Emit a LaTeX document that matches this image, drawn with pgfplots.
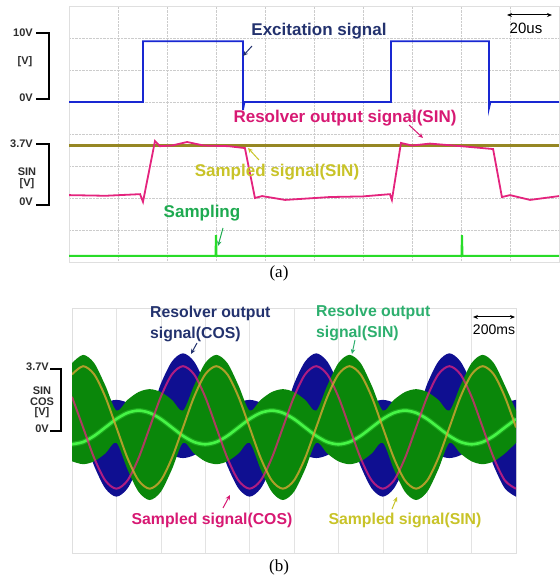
\documentclass[border=0pt]{standalone}
\usepackage{pgfplots}
\pgfplotsset{compat=1.18}
\usepackage{pgfplotstable}
\usepgfplotslibrary{fillbetween}
\usetikzlibrary{arrows.meta}
\usepackage{fontspec}
\setmainfont{Liberation Sans}
\newfontfamily\serif{Liberation Serif}

\definecolor{navytxt}{RGB}{35,50,110}
\definecolor{magtxt}{RGB}{215,25,115}
\definecolor{yeltxt}{RGB}{200,195,40}
\definecolor{grntxt}{RGB}{30,170,80}
\definecolor{grntxtb}{RGB}{45,175,110}
\definecolor{labgray}{RGB}{45,45,45}
\definecolor{exblue}{RGB}{25,40,210}
\definecolor{olive2}{RGB}{150,135,35}
\definecolor{magline}{RGB}{228,35,125}
\definecolor{sampgreen}{RGB}{40,220,40}
\definecolor{fillblue}{RGB}{15,15,145}
\definecolor{fillgreen}{RGB}{10,135,10}
\definecolor{lightgreen}{RGB}{70,245,70}
\definecolor{orangeline}{RGB}{215,165,50}

% panel (b): time in ms, level in screen divisions
% m = sampled COS, o = sampled SIN, ub/lb = COS band, ug/lgn = SIN band, lg = bright green trace
\pgfplotstableread{
t m o ub lb ug lgn lg
0 5.1 5.832 5.52 3.45 6.202 2.994 3.55
50 4.1 6.1 4.52 3.8 6.47 2.9 3.624
100 3.1 5.832 4.65 2.84 6.202 2.994 3.825
150 2.368 5.1 4.906 2.108 5.47 3.25 4.1
200 2.1 4.1 5.0 1.84 4.65 3.6 4.375
250 2.368 3.1 4.906 2.108 5.0 2.73 4.576
300 3.1 2.368 4.65 2.84 5.256 1.998 4.65
350 4.1 2.1 4.52 3.8 5.35 1.73 4.576
400 5.1 2.368 5.52 3.45 5.256 1.998 4.375
450 5.832 3.1 6.252 3.194 5.0 2.73 4.1
500 6.1 4.1 6.52 3.1 4.65 3.6 3.825
550 5.832 5.1 6.252 3.194 5.47 3.25 3.624
600 5.1 5.832 5.52 3.45 6.202 2.994 3.55
650 4.1 6.1 4.52 3.8 6.47 2.9 3.624
700 3.1 5.832 4.65 2.84 6.202 2.994 3.825
750 2.368 5.1 4.906 2.108 5.47 3.25 4.1
800 2.1 4.1 5.0 1.84 4.65 3.6 4.375
850 2.368 3.1 4.906 2.108 5.0 2.73 4.576
900 3.1 2.368 4.65 2.84 5.256 1.998 4.65
950 4.1 2.1 4.52 3.8 5.35 1.73 4.576
1000 5.1 2.368 5.52 3.45 5.256 1.998 4.375
1050 5.832 3.1 6.252 3.194 5.0 2.73 4.1
1100 6.1 4.1 6.52 3.1 4.65 3.6 3.825
1150 5.832 5.1 6.252 3.194 5.47 3.25 3.624
1200 5.1 5.832 5.52 3.45 6.202 2.994 3.55
1250 4.1 6.1 4.52 3.8 6.47 2.9 3.624
1300 3.1 5.832 4.65 2.84 6.202 2.994 3.825
1350 2.368 5.1 4.906 2.108 5.47 3.25 4.1
1400 2.1 4.1 5.0 1.84 4.65 3.6 4.375
1450 2.368 3.1 4.906 2.108 5.0 2.73 4.576
1500 3.1 2.368 4.65 2.84 5.256 1.998 4.65
1550 4.1 2.1 4.52 3.8 5.35 1.73 4.576
1600 5.1 2.368 5.52 3.45 5.256 1.998 4.375
1650 5.832 3.1 6.252 3.194 5.0 2.73 4.1
1700 6.1 4.1 6.52 3.1 4.65 3.6 3.825
1750 5.832 5.1 6.252 3.194 5.47 3.25 3.624
1800 5.1 5.832 5.52 3.45 6.202 2.994 3.55
1850 4.1 6.1 4.52 3.8 6.47 2.9 3.624
1900 3.1 5.832 4.65 2.84 6.202 2.994 3.825
1950 2.368 5.1 4.906 2.108 5.47 3.25 4.1
2000 2.1 4.1 5.0 1.84 4.65 3.6 4.375
}\bdata

\tikzset{
  ann/.style={font=\fontsize{17}{19}\selectfont\bfseries, inner sep=0pt},
  annb/.style={font=\fontsize{15.8}{18}\selectfont\bfseries, inner sep=0pt},
  lab/.style={font=\fontsize{11}{12}\selectfont\bfseries, text=labgray, inner sep=0pt},
  arr/.style={-{Stealth[length=5pt,width=4.5pt]}, line width=1pt},
}
\pgfplotsset{every tick label/.append style={inner sep=0pt, outer sep=0pt}}

\begin{document}
\begin{tikzpicture}
\path (0,0) rectangle (559pt,579pt);

% ---------------- panel (a) ----------------
\begin{axis}[
  at={(69pt,317pt)}, anchor=south west,
  scale only axis, width=490pt, height=256pt,
  xmin=0, xmax=200, ymin=0, ymax=8,
  xtick={0,20,...,200}, ytick={0,1,...,8},
  xticklabels={}, yticklabels={},
  major tick length=0pt,
  grid=major,
  major grid style={densely dotted, gray!40, line width=0.6pt},
  axis line style={gray!25},
]
% sampled signal (SIN)
\addplot[olive2, line width=2.6pt] coordinates {(0,3.64) (200,3.64)};
% excitation signal
\addplot[exblue, line width=1.8pt] coordinates {
  (0,5.0) (30.2,5.0) (30.2,6.9) (71.0,6.9) (71.0,4.75) (71.6,5.0)
  (131.4,5.0) (131.4,6.9) (171.4,6.9) (171.4,4.8) (172.0,5.0) (200,5.0)};
% resolver output signal (SIN)
\addplot[magline, line width=1.8pt] coordinates {
  (0,2.09) (15,2.07) (29.0,2.12) (30.2,1.88) (35.1,3.78) (37.1,3.62)
  (42,3.64) (48.2,3.75) (55,3.64) (65,3.62) (71.8,3.56) (75.9,2.0)
  (78.8,2.06) (88.2,1.94) (106.5,2.03) (120,2.05) (131.0,2.12) (131.8,1.94)
  (135.5,3.72) (140,3.64) (147.3,3.70) (160,3.62) (173.1,3.53) (176.7,2.03)
  (180,2.09) (188.2,1.94) (200,2.06)};
% sampling pulses
\addplot[sampgreen, line width=2pt] coordinates {
  (0,0.19) (59.8,0.19) (60.0,0.84) (60.2,0.19)
  (160.2,0.19) (160.4,0.84) (160.6,0.19) (200,0.19)};
\end{axis}

% ---------------- panel (b) ----------------
\begin{axis}[
  at={(72pt,26pt)}, anchor=south west,
  scale only axis, width=444pt, height=245pt,
  xmin=0, xmax=2000, ymin=0, ymax=8,
  xtick={0,200,...,2000}, ytick=\empty,
  xticklabels={},
  major tick length=0pt,
  xmajorgrids,
  major grid style={gray!22, line width=0.6pt},
  extra x ticks={1000}, extra x tick labels={},
  extra x tick style={grid style={gray!60, line width=0.6pt}},
  axis line style={gray!25},
]
\addplot[draw=none, smooth, name path=bu] table[x=t, y=ub] {\bdata};
\addplot[draw=none, smooth, name path=bl] table[x=t, y=lb] {\bdata};
\addplot[fillblue] fill between[of=bu and bl];
\addplot[draw=none, smooth, name path=gu] table[x=t, y=ug] {\bdata};
\addplot[draw=none, smooth, name path=gl] table[x=t, y=lgn] {\bdata};
\addplot[fillgreen] fill between[of=gu and gl];
\addplot[lightgreen, smooth, line width=5pt, opacity=0.3] table[x=t, y=lg] {\bdata};
\addplot[lightgreen, smooth, line width=2.6pt] table[x=t, y=lg] {\bdata};
\addplot[magline, smooth, line width=2pt, opacity=0.75] table[x=t, y=m] {\bdata};
\addplot[orangeline, smooth, line width=2pt, opacity=0.8] table[x=t, y=o] {\bdata};
\end{axis}

% ---------------- annotations (picture pixels, y downwards) ----------------
\begin{scope}[x=1pt, y=-1pt, yshift=579pt]
  % panel (a) scale labels
  \node[lab, anchor=east] at (33,33) {10V};
  \node[lab] at (25,62) {[V]};
  \node[lab, anchor=east] at (33,98) {0V};
  \draw[line width=1.4pt] (36,33) -- (49,33) -- (49,99) -- (36,99);
  \node[lab, anchor=east] at (33,144) {3.7V};
  \node[lab] at (27,172) {SIN};
  \node[lab] at (27,184) {[V]};
  \node[lab, anchor=east] at (33,202) {0V};
  \draw[line width=1.4pt] (36,144) -- (49,144) -- (49,205) -- (36,205);

  \node[ann, text=navytxt] at (319,31) {Excitation signal};
  \draw[arr, navytxt] (252,46) -- (243,56);
  \draw[{Stealth[length=5pt,width=4pt]}-{Stealth[length=5pt,width=4pt]}, line width=1pt] (507,15) -- (552,15);
  \node[font=\fontsize{15}{17}\selectfont, inner sep=0pt] at (526,28) {20us};
  \node[ann, text=magtxt] at (345,118) {Resolver output signal(SIN)};
  \draw[arr, magtxt] (409,125) -- (423,138);
  \node[ann, text=yeltxt] at (277,172) {Sampled signal(SIN)};
  \draw[arr, yeltxt] (259,160) -- (248,148);
  \node[ann, text=grntxt] at (202,213) {Sampling};
  \draw[arr, grntxt] (223,228) -- (218,246);
  \node[font=\serif\fontsize{17}{19}\selectfont, inner sep=0pt] at (279,273) {(a)};

  % panel (b) scale labels
  \node[lab, anchor=east] at (49,367) {3.7V};
  \node[lab] at (42,391) {SIN};
  \node[lab] at (42,402) {COS};
  \node[lab] at (42,413) {[V]};
  \node[lab, anchor=east] at (49,429) {0V};
  \draw[line width=1.4pt] (50,369) -- (61,369) -- (61,431) -- (50,431);

  \node[annb, text=navytxt, anchor=west] at (150,313) {Resolver output};
  \node[annb, text=navytxt, anchor=west] at (150,334) {signal(COS)};
  \draw[arr, navytxt] (197,343) -- (191,354);
  \node[annb, text=grntxtb, anchor=west] at (316,312) {Resolve output};
  \node[annb, text=grntxtb, anchor=west] at (316,333) {signal(SIN)};
  \draw[arr, grntxtb] (355,340) -- (352,354);
  \draw[{Stealth[length=5pt,width=4pt]}-{Stealth[length=5pt,width=4pt]}, line width=1pt] (473,317) -- (515,317);
  \node[font=\fontsize{14}{16}\selectfont, inner sep=0pt] at (494,330) {200ms};
  \node[annb, text=magtxt] at (212,520) {Sampled signal(COS)};
  \draw[arr, magtxt] (223,508) -- (230,495);
  \node[annb, text=yeltxt] at (405,520) {Sampled signal(SIN)};
  \draw[arr, yeltxt] (392,509) -- (397,497);
  \node[font=\serif\fontsize{17}{19}\selectfont, inner sep=0pt] at (279,567) {(b)};
\end{scope}
\end{tikzpicture}
\end{document}
